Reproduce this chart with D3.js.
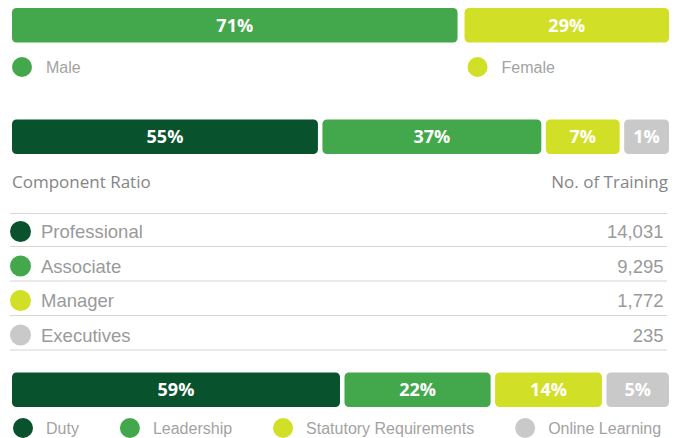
<!DOCTYPE html>
<html>
<head>
<meta charset="utf-8">
<script src="https://cdn.jsdelivr.net/npm/d3@7"></script>
<style>
  html, body { margin: 0; padding: 0; background: #ffffff; }
  svg { display: block; }
</style>
</head>
<body>
<svg id="chart" width="693" height="438"></svg>
<script>
// Gender split of trainees
const genderLabels = ["Male", "Female"];
const genderValues = [71, 29];

// Component ratio by employee level
const levelLabels = ["Professional", "Associate", "Manager", "Executives"];
const levelValues = [55, 37, 7, 1];
const levelTrainings = [14031, 9295, 1772, 235];

// Training type split
const typeLabels = ["Duty", "Leadership", "Statutory Requirements", "Online Learning"];
const typeValues = [59, 22, 14, 5];

const colors2 = ["#42a84b", "#d2df27"];
const colors4 = ["#08522d", "#42a84b", "#d2df27", "#c9c9c9"];

const svg = d3.select("#chart");
const left = 12, right = 669;
const labelFont = "'Open Sans', sans-serif";
const bodyFont = "'Liberation Sans', Arial, sans-serif";

// Stacked percentage bar: each segment has a small fixed base so its label fits,
// the rest of the width is shared linearly by value.
function stackedBar(values, colors, y, h, gap, base) {
  const n = values.length;
  const avail = (right - left) - gap * (n - 1) - base * n;
  const w = d3.scaleLinear().domain([0, d3.sum(values)]).range([0, avail]);
  let x = left;
  const segs = values.map((v, i) => {
    const width = base + w(v);
    const s = { v, i, x, width };
    x += width + gap;
    return s;
  });
  const g = svg.append("g");
  g.selectAll("rect").data(segs).join("rect")
    .attr("x", d => d.x).attr("y", y)
    .attr("width", d => d.width).attr("height", h)
    .attr("rx", 4.5).attr("ry", 4.5)
    .attr("fill", d => colors[d.i]);
  g.selectAll("text").data(segs).join("text")
    .attr("x", d => d.x + d.width / 2)
    .attr("y", y + h / 2 + 6.5)
    .attr("text-anchor", "middle")
    .attr("font-family", labelFont)
    .attr("font-weight", 700)
    .attr("font-size", 18)
    .attr("fill", "#ffffff")
    .text(d => d3.format("d")(d.v) + "%");
  return segs;
}

// --- Gender bar and legend
const gSegs = stackedBar(genderValues, colors2, 8, 34.5, 7, 38);
const gl = svg.append("g");
gl.selectAll("circle").data(gSegs).join("circle")
  .attr("cx", d => d.x + (d.i === 0 ? 10 : 13))
  .attr("cy", 67).attr("r", 10)
  .attr("fill", d => colors2[d.i]);
gl.selectAll("text").data(gSegs).join("text")
  .attr("x", d => d.x + (d.i === 0 ? 34 : 37))
  .attr("y", 73)
  .attr("font-family", bodyFont).attr("font-size", 16)
  .attr("fill", "#a3a3a3")
  .text(d => genderLabels[d.i]);

// --- Level bar
stackedBar(levelValues, colors4, 119.5, 34.5, 4.5, 40);

// Table header
svg.append("text")
  .attr("x", left).attr("y", 188)
  .attr("font-family", labelFont).attr("font-weight", 500).attr("font-size", 17)
  .attr("fill", "#858585")
  .text("Component Ratio");
svg.append("text")
  .attr("x", right - 1).attr("y", 188)
  .attr("text-anchor", "end")
  .attr("font-family", labelFont).attr("font-weight", 500).attr("font-size", 17)
  .attr("fill", "#858585")
  .text("No. of Training");

// Table rows
const rowY = d3.scaleBand().domain(levelLabels).range([212, 350]);
const rows = svg.append("g");
rows.append("line")
  .attr("x1", 10).attr("x2", 667)
  .attr("y1", 213.5).attr("y2", 213.5)
  .attr("stroke", "#d6d6d6").attr("stroke-width", 1.2);
const row = rows.selectAll("g.row").data(levelLabels).join("g")
  .attr("class", "row")
  .attr("transform", d => `translate(0,${rowY(d)})`);
row.append("line")
  .attr("x1", 10).attr("x2", 667)
  .attr("y1", rowY.bandwidth()).attr("y2", rowY.bandwidth())
  .attr("stroke", "#d6d6d6").attr("stroke-width", 1.2);
row.append("circle")
  .attr("cx", 20.5).attr("cy", 19.5).attr("r", 10.5)
  .attr("fill", (d, i) => colors4[i]);
row.append("text")
  .attr("x", 41).attr("y", 26)
  .attr("font-family", bodyFont).attr("font-size", 18.5)
  .attr("fill", "#9a9a9a")
  .text(d => d);
row.append("text")
  .attr("x", 663.5).attr("y", 26)
  .attr("text-anchor", "end")
  .attr("font-family", bodyFont).attr("font-size", 18.5)
  .attr("fill", "#9a9a9a")
  .text((d, i) => d3.format(",")(levelTrainings[i]));

// --- Training type bar and legend
stackedBar(typeValues, colors4, 372.5, 34.5, 4.5, 38);
const tl = svg.append("g");
let lx = 13;
typeLabels.forEach((name, i) => {
  const item = tl.append("g").attr("transform", `translate(${lx},0)`);
  item.append("circle").attr("cx", 10).attr("cy", 428).attr("r", 10)
    .attr("fill", colors4[i]);
  const t = item.append("text").attr("x", 33).attr("y", 434)
    .attr("font-family", bodyFont).attr("font-size", 16)
    .attr("fill", "#a3a3a3").text(name);
  lx += 33 + t.node().getComputedTextLength() + 41;
});
</script>
</body>
</html>
